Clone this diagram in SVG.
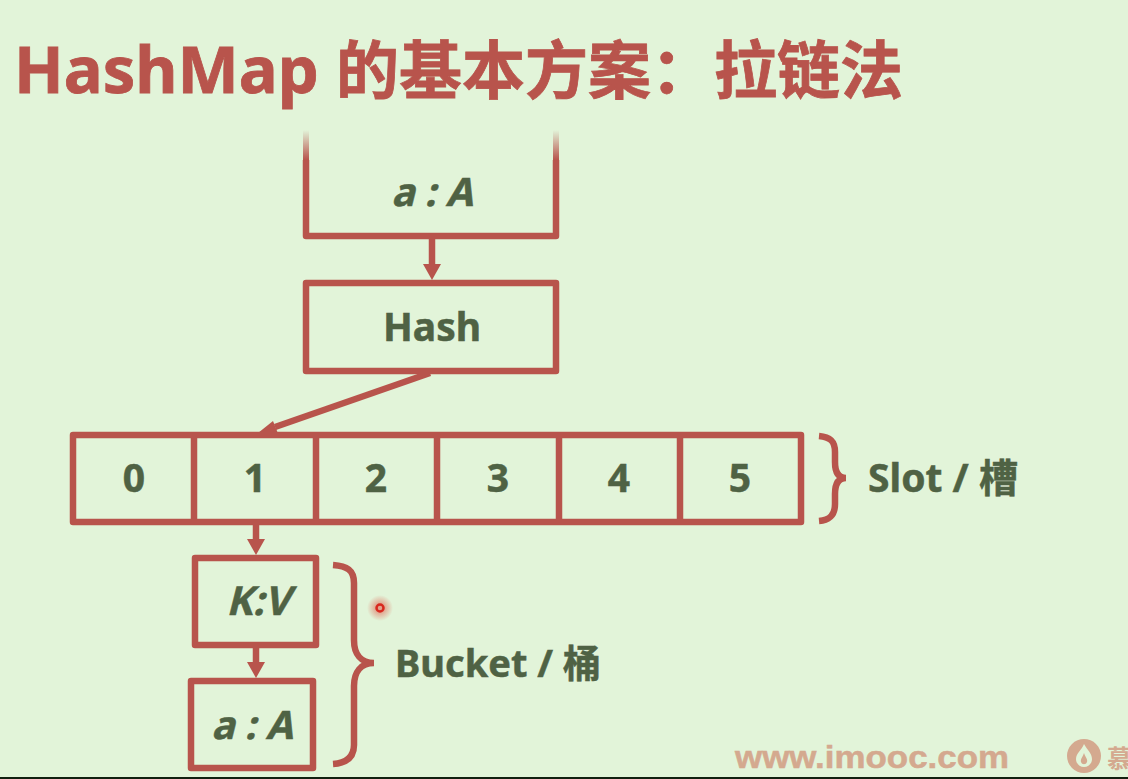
<svg xmlns="http://www.w3.org/2000/svg" width="1128" height="779" viewBox="0 0 1128 779">
<style>
.b{fill:none;stroke:#b8544c;stroke-width:6.5;stroke-linejoin:round}
.c{fill:none;stroke:#b8544c;stroke-width:6.5;stroke-linecap:butt}
.t{font-family:"Noto Sans","Noto Sans CJK SC",sans-serif;font-weight:700;fill:#4f6244;stroke:#4f6244;stroke-width:.5;font-size:39px;text-anchor:middle}
.h{fill:#b8544c}
</style>
<defs>
<linearGradient id="f1" x1="0" y1="0" x2="0" y2="1"><stop offset="0" stop-color="#b8544c" stop-opacity="0"/><stop offset="1" stop-color="#b8544c"/></linearGradient>
<radialGradient id="g"><stop offset="0.3" stop-color="#e05040" stop-opacity="0.5"/><stop offset="1" stop-color="#e05040" stop-opacity="0"/></radialGradient>
</defs>
<rect width="1128" height="779" fill="#e2f4d9"/>
<rect y="777" width="1128" height="2" fill="#122010"/>
<text id="title" x="14" y="93" style="font-family:'Noto Sans','Noto Sans CJK SC',sans-serif;font-weight:700;font-size:65px;fill:#b8544c;stroke:#b8544c;stroke-width:.8">HashMap <tspan x="336" style="font-size:63px">的基本方案&#xFF1A;拉链法</tspan></text>
<g id="connectors">
<path class="c" d="M432 237V266"/><path class="h" d="M423 264H441L432 280Z"/>
<path class="c" d="M430 373L275 427"/><path class="h" d="M258 433L273 421L279 436Z"/>
<path class="c" d="M256 522V542"/><path class="h" d="M247 539H265L256 555Z"/>
<path class="c" d="M256 646V664"/><path class="h" d="M247 662H265L256 678Z"/>
</g>
<g id="input">
<rect x="303" y="130" width="6" height="30" fill="url(#f1)"/><rect x="553" y="130" width="6" height="30" fill="url(#f1)"/>
<path class="b" d="M306 160V236H556V160"/>
<text class="t" transform="translate(432 206) skewX(-14)" x="0" y="0">a : A</text>
</g>
<g id="hash"><rect class="b" x="306" y="283" width="250" height="88"/><text class="t" x="432" y="341">Hash</text></g>
<g id="slots">
<rect class="b" x="73" y="435" width="728" height="87"/>
<path class="b" d="M194 435V522M316 435V522M437 435V522M559 435V522M680 435V522"/>
<text class="t" x="134" y="492">0</text><text class="t" x="255" y="492">1</text><text class="t" x="376" y="492">2</text><text class="t" x="498" y="492">3</text><text class="t" x="619" y="492">4</text><text class="t" x="740" y="492">5</text>
</g>
<g id="slot-brace">
<path class="c" d="M819 436C830 437 835 441 835 452V462C835 472 838 478 846 478C838 478 835 484 835 494V504C835 515 830 520 819 521"/>
<text class="t" x="943" y="492">Slot / 槽</text>
</g>
<g id="kv"><rect class="b" x="195" y="558" width="121" height="87"/><text class="t" transform="translate(258 615) skewX(-14)" x="0" y="0" style="font-size:40px">K:V</text></g>
<g id="aa"><rect class="b" x="191" y="681" width="122" height="87"/><text class="t" transform="translate(252 739) skewX(-14)" x="0" y="0">a : A</text></g>
<g id="bucket-brace">
<path class="c" d="M333 565C347 566 354 570 354 583V640C354 654 361 663 374 663C361 663 354 672 354 686V745C354 757 347 763 333 764"/>
<text class="t" x="498" y="677" style="font-size:38px">Bucket / 桶</text>
</g>
<circle cx="380" cy="608" r="13" fill="url(#g)"/><circle cx="380" cy="608" r="3.5" fill="none" stroke="#d8281e" stroke-width="2.5"/>
<g id="watermark" fill="#d4a98f">
<text x="735" y="768" textLength="274" lengthAdjust="spacingAndGlyphs" style="font-family:'Liberation Sans',sans-serif;font-weight:700;font-size:32px;stroke:#d4a98f;stroke-width:.5">www.imooc.com</text>
<circle cx="1084" cy="756" r="17"/>
<path d="M1084 744C1087 750 1092 753 1092 759C1092 764 1088 767 1084 767C1080 767 1076 764 1076 759C1076 753 1082 750 1084 744Z" fill="#e2f4d9"/>
<path d="M1084 753C1085 757 1088 759 1087 762C1086 765 1082 765 1081 762C1080 759 1083 757 1084 753Z" fill="#d4a98f"/>
<text x="1107" y="768" style="font-family:'Noto Sans CJK SC',sans-serif;font-weight:700;font-size:25px">慕</text>
</g>
</svg>
